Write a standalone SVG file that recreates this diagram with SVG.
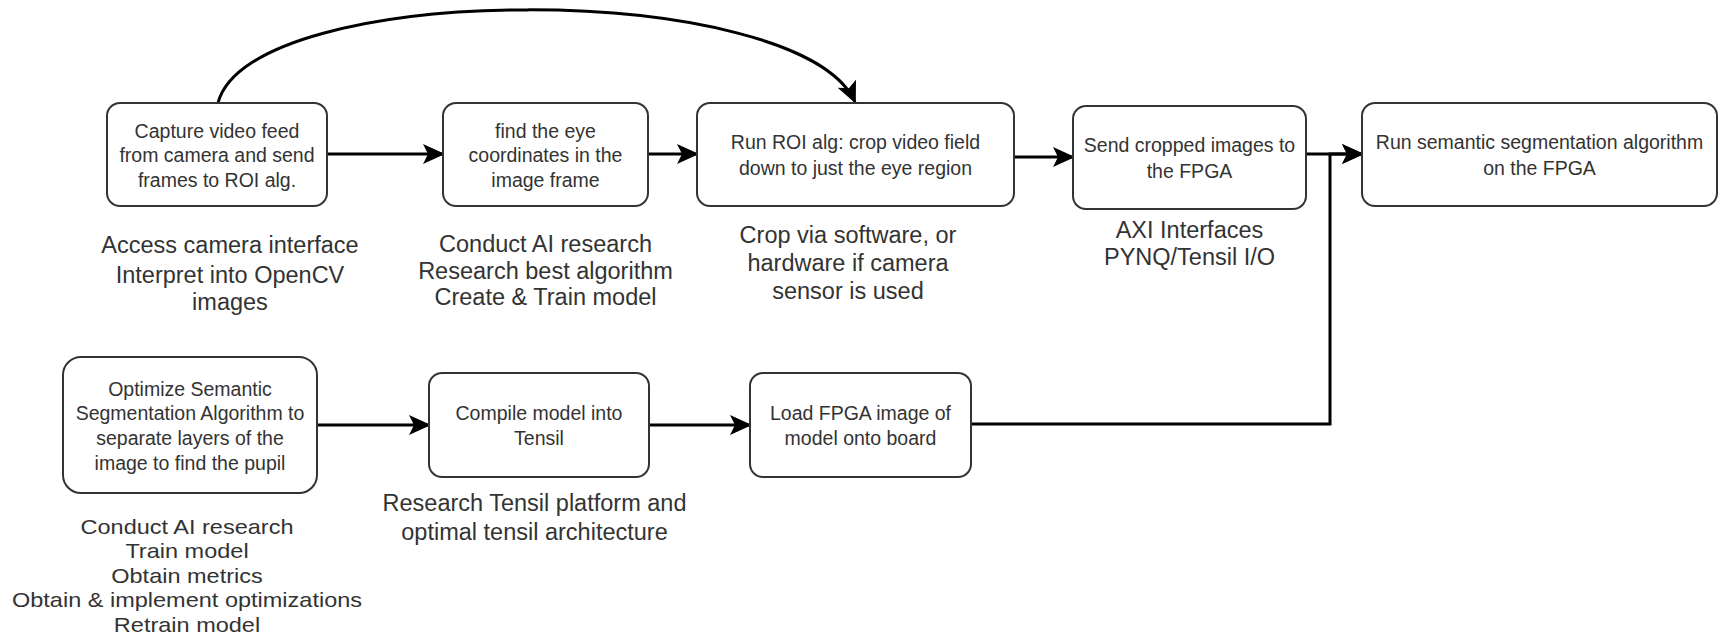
<svg xmlns="http://www.w3.org/2000/svg" width="1730" height="636" viewBox="0 0 1730 636">
<defs>
<marker id="arr" markerUnits="userSpaceOnUse" markerWidth="24" markerHeight="22" refX="20" refY="10" orient="auto">
<path d="M0,0 L22,10 L0,20 L5,10 z" fill="#000"/>
</marker>
<style>
.box{fill:#fff;stroke:#333;stroke-width:2}
.bt{font-family:"Liberation Sans",Arial,sans-serif;font-size:19.5px;fill:#333;text-anchor:middle}
.an{font-family:"Liberation Sans",Arial,sans-serif;font-size:23.5px;fill:#333;text-anchor:middle}
.an2{font-family:"Liberation Sans",Arial,sans-serif;font-size:21px;fill:#333;text-anchor:middle}
.ln{fill:none;stroke:#000;stroke-width:3}
</style>
</defs>
<rect width="1730" height="636" fill="#fff"/>
<g id="connectors">
<path class="ln" d="M218,103 C250,-21 800,-21 855,102" marker-end="url(#arr)"/>
<path class="ln" d="M327,154 H443" marker-end="url(#arr)"/>
<path class="ln" d="M648,154 H697" marker-end="url(#arr)"/>
<path class="ln" d="M1014,157 H1073" marker-end="url(#arr)"/>
<path class="ln" d="M1306,154 H1362" marker-end="url(#arr)"/>
<path class="ln" d="M971,424 H1330 V154 H1362" marker-end="url(#arr)"/>
<path class="ln" d="M317,425 H429" marker-end="url(#arr)"/>
<path class="ln" d="M649,425 H750" marker-end="url(#arr)"/>
</g>
<g id="n1">
<rect class="box" x="107" y="103" width="220" height="103" rx="13"/>
<text class="bt" x="217" y="138">Capture video feed</text>
<text class="bt" x="217" y="162">from camera and send</text>
<text class="bt" x="217" y="187">frames to ROI alg.</text>
</g>
<g id="n2">
<rect class="box" x="443" y="103" width="205" height="103" rx="13"/>
<text class="bt" x="545.5" y="138">find the eye</text>
<text class="bt" x="545.5" y="162">coordinates in the</text>
<text class="bt" x="545.5" y="187">image frame</text>
</g>
<g id="n3">
<rect class="box" x="697" y="103" width="317" height="103" rx="13"/>
<text class="bt" x="855.5" y="149">Run ROI alg: crop video field</text>
<text class="bt" x="855.5" y="175">down to just the eye region</text>
</g>
<g id="n4">
<rect class="box" x="1073" y="106" width="233" height="103" rx="13"/>
<text class="bt" x="1189.5" y="152">Send cropped images to</text>
<text class="bt" x="1189.5" y="178">the FPGA</text>
</g>
<g id="n5">
<rect class="box" x="1362" y="103" width="355" height="103" rx="13"/>
<text class="bt" x="1539.5" y="149">Run semantic segmentation algorithm</text>
<text class="bt" x="1539.5" y="175">on the FPGA</text>
</g>
<g id="n6">
<rect class="box" x="63" y="357" width="254" height="136" rx="18"/>
<text class="bt" x="190" y="396">Optimize Semantic</text>
<text class="bt" x="190" y="420">Segmentation Algorithm to</text>
<text class="bt" x="190" y="445">separate layers of the</text>
<text class="bt" x="190" y="470">image to find the pupil</text>
</g>
<g id="n7">
<rect class="box" x="429" y="373" width="220" height="104" rx="13"/>
<text class="bt" x="539" y="420">Compile model into</text>
<text class="bt" x="539" y="445">Tensil</text>
</g>
<g id="n8">
<rect class="box" x="750" y="373" width="221" height="104" rx="13"/>
<text class="bt" x="860.5" y="420">Load FPGA image of</text>
<text class="bt" x="860.5" y="445">model onto board</text>
</g>
<g id="annotations">
<text class="an" x="230" y="253">Access camera interface</text>
<text class="an" x="230" y="283">Interpret into OpenCV</text>
<text class="an" x="230" y="310">images</text>
<text class="an" x="545.5" y="252">Conduct AI research</text>
<text class="an" x="545.5" y="279">Research best algorithm</text>
<text class="an" x="545.5" y="305">Create &amp; Train model</text>
<text class="an" x="848" y="243">Crop via software, or</text>
<text class="an" x="848" y="271">hardware if camera</text>
<text class="an" x="848" y="299">sensor is used</text>
<text class="an" x="1189.5" y="238">AXI Interfaces</text>
<text class="an" x="1189.5" y="265">PYNQ/Tensil I/O</text>
<text class="an" x="534.5" y="511">Research Tensil platform and</text>
<text class="an" x="534.5" y="540">optimal tensil architecture</text>
<g transform="translate(187,0) scale(1.12,1)">
<text class="an2" x="0" y="534">Conduct AI research</text>
<text class="an2" x="0" y="558.5">Train model</text>
<text class="an2" x="0" y="583">Obtain metrics</text>
<text class="an2" x="0" y="607.5">Obtain &amp; implement optimizations</text>
<text class="an2" x="0" y="632">Retrain model</text>
</g>
</g>
</svg>
